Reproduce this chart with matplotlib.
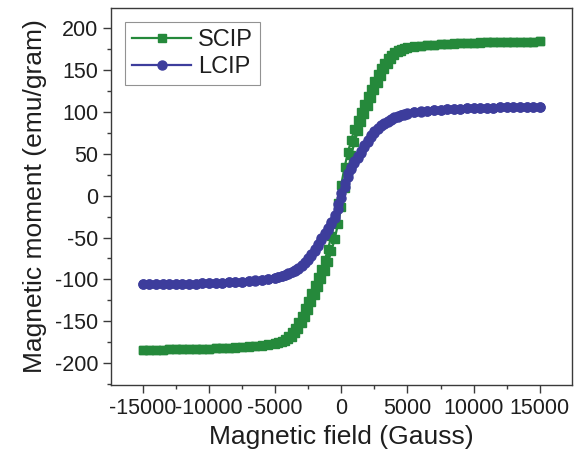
import numpy as np
import matplotlib.pyplot as plt
from matplotlib.ticker import MultipleLocator

plt.rcParams['font.family'] = ['Liberation Sans', 'DejaVu Sans']
plt.rcParams['axes.unicode_minus'] = False

# applied field (Gauss), ascending; finer steps through the switching region
field = [-15000, -14500, -14000, -13500, -13000, -12500, -12000, -11500, -11000, -10500,
         -10000, -9500, -9000, -8500, -8000, -7500, -7000, -6500, -6000, -5500,
         -5000, -4750, -4500, -4250, -4000, -3750, -3500, -3250, -3000, -2750,
         -2500, -2250, -2000, -1750, -1500, -1250, -1000, -750, -500, -250,
         0, 250, 500, 750, 1000, 1250, 1500, 1750, 2000, 2250,
         2500, 2750, 3000, 3250, 3500, 3750, 4000, 4250, 4500, 4750, 5000,
         5500, 6000, 6500, 7000, 7500, 8000, 8500, 9000, 9500, 10000,
         10500, 11000, 11500, 12000, 12500, 13000, 13500, 14000, 14500, 15000]

# SCIP, increasing-field branch (emu/gram)
scip_up = [-184.0, -183.9, -183.8, -183.8, -183.6, -183.5, -183.4, -183.2, -183.1, -182.9,
           -182.7, -182.4, -182.1, -181.7, -181.3, -180.9, -180.4, -179.7, -179.0, -178.1,
           -176.9, -176.1, -175.0, -173.6, -171.5, -168.4, -164.0, -158.6, -152.2, -144.8,
           -136.4, -127.4, -118.4, -109.0, -99.4, -90.0, -79.2, -66.4, -51.6, -34.0,
           -13.2, 8.8, 30.0, 48.4, 63.6, 76.8, 88.0, 97.6, 107.0, 116.6,
           125.6, 134.6, 143.2, 150.8, 157.4, 163.0, 167.6, 171.0, 173.2, 174.8, 175.9,
           177.4, 178.5, 179.3, 180.0, 180.6, 181.1, 181.5, 181.9, 182.2, 182.5,
           182.7, 182.9, 183.1, 183.3, 183.4, 183.6, 183.7, 183.8, 183.9, 184.0]

# SCIP, decreasing-field branch (listed in the same field order)
scip_down = [-184.0, -183.9, -183.8, -183.7, -183.6, -183.4, -183.3, -183.1, -182.9, -182.7,
             -182.5, -182.2, -181.9, -181.5, -181.1, -180.6, -180.0, -179.3, -178.5, -177.4,
             -175.9, -174.8, -173.2, -171.0, -167.6, -163.0, -157.4, -150.8, -143.2, -134.6,
             -125.6, -116.6, -107.0, -97.6, -88.0, -76.8, -63.6, -48.4, -30.0, -8.8,
             13.2, 34.0, 51.6, 66.4, 79.2, 90.0, 99.4, 109.0, 118.4, 127.4,
             136.4, 144.8, 152.2, 158.6, 164.0, 168.4, 171.5, 173.6, 175.0, 176.1, 176.9,
             178.1, 179.0, 179.7, 180.4, 180.9, 181.3, 181.7, 182.1, 182.4, 182.7,
             182.9, 183.1, 183.2, 183.4, 183.5, 183.6, 183.8, 183.8, 183.9, 184.0]

# LCIP, increasing-field branch
lcip_up = [-106.0, -105.9, -105.8, -105.7, -105.6, -105.5, -105.4, -105.2, -105.0, -104.8,
           -104.5, -104.2, -103.9, -103.5, -103.1, -102.6, -102.0, -101.3, -100.5, -99.5,
           -98.1, -97.2, -96.1, -94.8, -93.3, -91.4, -89.4, -87.0, -84.5, -80.8,
           -76.8, -72.0, -66.2, -60.2, -53.4, -47.2, -41.2, -34.4, -26.6, -15.4,
           -2.6, 10.4, 22.6, 31.4, 38.6, 44.8, 50.8, 57.6, 63.8, 69.8,
           75.0, 79.2, 83.2, 86.0, 88.5, 90.6, 92.6, 94.2, 95.7, 96.8, 97.8,
           99.4, 100.4, 101.2, 101.9, 102.5, 103.0, 103.4, 103.8, 104.1, 104.4,
           104.7, 104.9, 105.1, 105.3, 105.5, 105.6, 105.7, 105.8, 105.9, 106.0]

# LCIP, decreasing-field branch
lcip_down = [-106.0, -105.9, -105.8, -105.7, -105.6, -105.5, -105.3, -105.1, -104.9, -104.7,
             -104.4, -104.1, -103.8, -103.4, -103.0, -102.5, -101.9, -101.2, -100.4, -99.4,
             -97.8, -96.8, -95.7, -94.2, -92.6, -90.6, -88.5, -86.0, -83.2, -79.2,
             -75.0, -69.8, -63.8, -57.6, -50.8, -44.8, -38.6, -31.4, -22.6, -10.4,
             2.6, 15.4, 26.6, 34.4, 41.2, 47.2, 53.4, 60.2, 66.2, 72.0,
             76.8, 80.8, 84.5, 87.0, 89.4, 91.4, 93.3, 94.8, 96.1, 97.2, 98.1,
             99.5, 100.5, 101.3, 102.0, 102.6, 103.1, 103.5, 103.9, 104.2, 104.5,
             104.8, 105.0, 105.2, 105.4, 105.5, 105.6, 105.7, 105.8, 105.9, 106.0]

green = '#25893b'
blue = '#3d3d9c'
ink = '#1e1e1e'

fig = plt.figure(figsize=(5.77, 4.59), dpi=100)
ax = fig.add_axes([0.1924, 0.1612, 0.7981, 0.8214])

h = np.array(field)
# full loop: sweep down from +15000, then back up
loop_h = np.concatenate([h[::-1], h])
ax.plot(loop_h, np.concatenate([np.array(scip_down)[::-1], scip_up]),
        color=green, marker='s', markersize=5.5, linewidth=1.6, label='SCIP')
ax.plot(loop_h, np.concatenate([np.array(lcip_down)[::-1], lcip_up]),
        color=blue, marker='o', markersize=6.5, linewidth=1.6, label='LCIP')

ax.set_xlim(-17400, 17400)
ax.set_ylim(-226, 224)
ax.xaxis.set_major_locator(MultipleLocator(5000))
ax.xaxis.set_minor_locator(MultipleLocator(2500))
ax.yaxis.set_major_locator(MultipleLocator(50))
ax.yaxis.set_minor_locator(MultipleLocator(25))

for s in ax.spines.values():
    s.set_color('#3a3a3a')
    s.set_linewidth(1.0)
ax.tick_params(which='both', direction='out', colors='#3a3a3a', labelcolor=ink,
               labelsize=15.5, top=False, right=False)
ax.tick_params(which='major', length=5.5, width=1.0)
ax.tick_params(which='minor', length=3, width=1.0)

ax.set_xlabel('Magnetic field (Gauss)', fontsize=19, color=ink, labelpad=5)
ax.set_ylabel('Magnetic moment (emu/gram)', fontsize=19, color=ink, labelpad=6)

leg = ax.legend(loc='upper left', fontsize=17, frameon=True, fancybox=False,
                handlelength=2.5, handletextpad=0.3, borderpad=0.3,
                labelspacing=0.2, borderaxespad=0.6)
leg.get_frame().set_edgecolor('#777777')
leg.get_frame().set_linewidth(0.8)
for t in leg.get_texts():
    t.set_color(ink)

fig.savefig('out.png', dpi=100)
